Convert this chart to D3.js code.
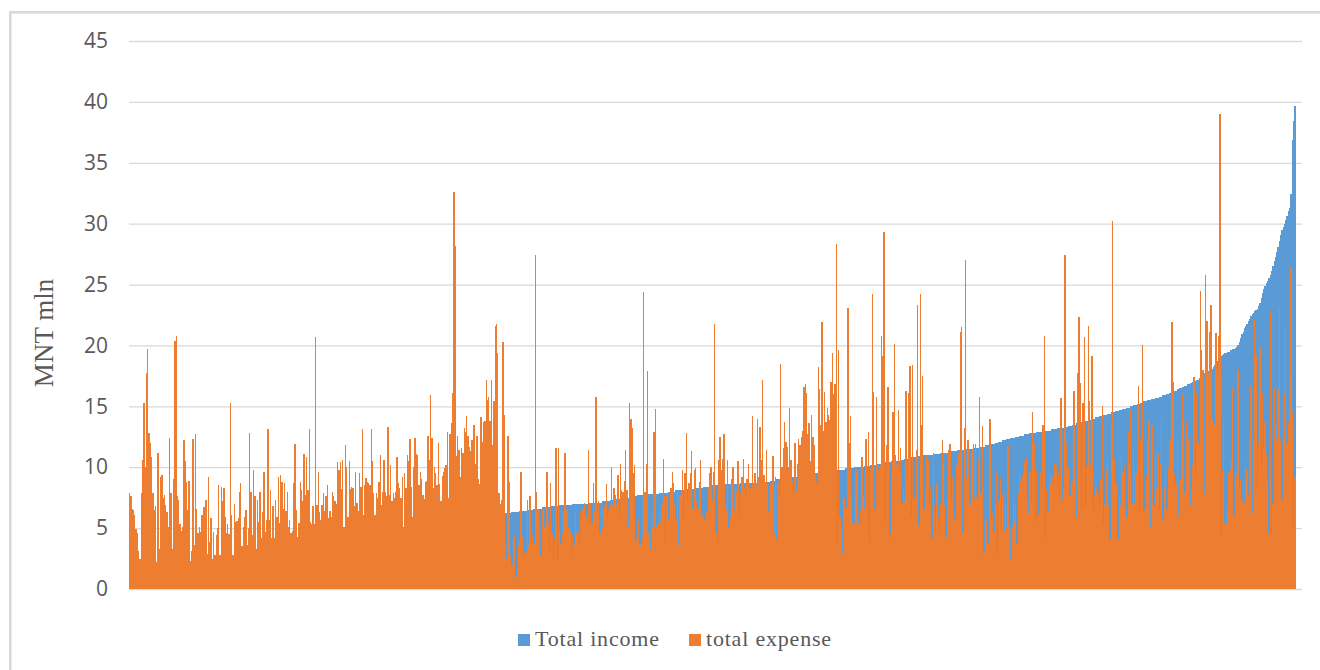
<!DOCTYPE html>
<html>
<head>
<meta charset="utf-8">
<script src="https://cdn.jsdelivr.net/npm/d3@7"></script>
<style>
  html, body { margin: 0; padding: 0; background: #fff; overflow: hidden; }
  svg { display: block; }
</style>
</head>
<body>
<svg id="chart" width="1320" height="670"></svg>
<script>
// ----- data, MNT mln -----
const seriesNames = ["Total income", "total expense"];
const yTicks = [0, 5, 10, 15, 20, 25, 30, 35, 40, 45];

// households sorted by income; the first part sits behind the expense bars
const totalIncome = [
  .5,.6,.7,.8,.9,1,1,1.1,1.1,1.2, 1.2,1.3,1.3,1.4,1.4,1.5,1.5,1.6,1.6,1.7,
  1.7,1.8,1.8,1.8,1.9,1.9,1.9,2,2,2, 2,2,2,2,2.1,2.1,2.1,2.1,2.1,2.1,
  2.1,2.1,2.1,2.2,2.2,2.2,2.2,2.2,2.2,2.2, 2.2,2.2,2.2,2.2,2.2,2.2,2.2,2.2,2.2,2.2,
  2.3,2.3,2.3,2.3,2.3,2.3,2.3,2.3,2.3,2.3, 2.3,2.3,2.3,2.3,2.3,2.3,2.3,2.3,2.3,2.3,
  2.4,2.4,2.4,2.4,2.4,2.4,2.4,2.4,2.4,2.4, 2.5,2.5,2.5,2.5,2.5,2.5,2.5,2.5,2.5,2.5,
  2.6,2.6,2.6,2.6,2.6,2.6,2.6,2.6,2.6,2.6, 2.7,2.7,2.7,2.7,2.7,2.7,2.7,2.7,2.7,2.7,
  2.8,2.8,2.8,2.8,2.8,2.8,2.8,2.8,2.8,2.8, 2.9,2.9,2.9,2.9,2.9,2.9,2.9,2.9,2.9,2.9,
  3,3,3,3,3,3,3,3,3,3, 3.1,3.1,3.1,3.1,3.1,3.1,3.1,3.1,3.1,3.1,
  3.2,3.2,3.2,3.2,3.2,3.2,3.2,3.2,3.2,3.2, 3.3,3.3,3.3,3.3,3.3,3.3,3.3,3.3,3.3,3.3,
  3.4,3.4,3.4,3.4,3.4,3.4,3.4,3.4,3.4,3.4, 3.5,3.5,3.5,3.5,3.5,3.5,3.5,3.5,3.5,3.5,
  3.6,3.6,3.6,3.6,3.6,3.6,3.6,3.6,3.6,3.6, 3.8,3.8,3.8,3.8,3.8,3.8,3.8,3.8,3.8,3.8,
  4,4,4,4,4,4,4,4,4,4, 4.2,4.2,4.2,4.2,4.2,4.2,4.2,4.2,4.2,4.2,
  4.4,4.4,4.4,4.4,4.4,4.4,4.4,4.4,4.4,4.4, 4.6,4.6,4.6,4.6,4.6,4.6,4.6,4.6,4.6,4.6,
  4.8,4.8,4.8,4.8,4.8,4.8,4.8,4.8,4.8,4.8, 5,5,5,5,5,5,5,5,5,5,
  5.5,5.5,5.5,5.5,5.5,5.5,5.5,5.5,5.5,5.5, 6,
  // visible from here on
  6.2,6.2,6.2,6.2,6.2,6.3,6.3,6.3,6.3,6.3, 6.3,6.4,6.4,6.4,6.4,6.4,6.4,6.5,6.5,6.5,
  6.5,6.5,6.6,6.6,6.6,6.6,6.6,6.6,6.6,6.7, 6.7,6.7,6.7,6.7,6.7,6.8,6.8,6.8,6.8,6.8,
  6.8,6.8,6.9,6.9,6.9,6.9,6.9,6.9,6.9, 6.9,6.9,6.9,7,7,7,7,7,7,7,
  7,7,7,7,7,7,7.1,7.1,7.1,7.1, 7.1,7.1,7.1,7.1,7.1,7.1,7.2,7.2,7.2,7.2,
  7.2,7.2,7.3,7.3,7.3,7.3,7.3,7.4,7.4,7.4, 7.4,7.4,7.5,7.5,7.5,7.5,7.5,7.6,7.6,7.6,
  7.6,7.6,7.6,7.7,7.7,7.7,7.7,7.7,7.7, 7.7,7.7,7.7,7.8,7.8,7.8,7.8,7.8,7.8,7.8,
  7.8,7.9,7.9,7.9,7.9,7.9,7.9,7.9,8,8, 8,8,8,8,8.1,8.1,8.1,8.1,8.1,8.1,
  8.1,8.2,8.2,8.2,8.2,8.2,8.2,8.2,8.3,8.3, 8.3,8.3,8.3,8.3,8.3,8.4,8.4,8.4,8.4,8.4,
  8.4,8.4,8.5,8.5,8.5,8.5,8.5,8.5,8.5, 8.5,8.5,8.6,8.6,8.6,8.6,8.6,8.6,8.6,8.6,
  8.6,8.6,8.6,8.6,8.6,8.7,8.7,8.7,8.7,8.7, 8.7,8.7,8.7,8.7,8.7,8.7,8.7,8.7,8.7,
  8.7,8.7,8.7,8.7,8.8,8.8,8.8,8.8,8.8,8.9, 8.9,8.9,8.9,8.9,9,9,9,9,9,9,
  9,9,9.1,9.1,9.1,9.1,9.2,9.2,9.2,9.2, 9.2,9.3,9.3,9.3,9.3,9.4,9.4,9.4,9.4,
  9.4,9.4,9.5,9.5,9.5,9.5,9.5,9.5,9.6,9.6, 9.6,9.6,9.6,9.6,9.6,9.6,9.7,9.7,9.7,9.7,
  9.7,9.7,9.8,9.8,9.8,9.8,9.8,9.8,9.9,9.9, 9.9,9.9,9.9,9.9,9.9,10,10,10,10,10,
  10,10,10,10.1,10.1,10.1,10.1,10.1,10.2,10.2, 10.2,10.2,10.2,10.3,10.3,10.3,10.3,10.3,10.4,
  10.4,10.4,10.4,10.4,10.4,10.5,10.5,10.5,10.5,10.5, 10.5,10.5,10.6,10.6,10.6,10.7,10.7,10.7,10.7,10.8,
  10.8,10.8,10.8,10.8,10.9,10.9,10.9,10.9,10.9,11, 11,11,11,11,11,11,11,11.1,11.1,11.1,
  11.1,11.1,11.1,11.2,11.2,11.2,11.2,11.2,11.2, 11.2,11.3,11.3,11.3,11.3,11.3,11.3,11.4,11.4,11.4,
  11.4,11.4,11.4,11.5,11.5,11.5,11.5,11.5,11.5,11.6, 11.6,11.6,11.6,11.6,11.7,11.7,11.7,11.7,11.7,11.8,
  11.8,11.8,11.8,11.9,11.9,11.9,12,12,12,12.1, 12.1,12.1,12.2,12.2,12.2,12.3,12.3,12.3,12.4,12.4,
  12.4,12.4,12.5,12.5,12.5,12.6,12.6,12.6,12.6,12.7, 12.7,12.7,12.7,12.8,12.8,12.8,12.8,12.8,12.9,
  12.9,12.9,12.9,12.9,13,13,13,13,13,13, 13,13.1,13.1,13.1,13.1,13.2,13.2,13.2,13.2,13.2,
  13.2,13.3,13.3,13.3,13.4,13.4,13.4,13.5,13.5,13.5, 13.6,13.6,13.6,13.7,13.7,13.7,13.8,13.8,13.8,13.9,
  13.9,13.9,14,14,14,14.1,14.1,14.1,14.2, 14.2,14.2,14.3,14.3,14.3,14.4,14.4,14.4,14.5,14.5,
  14.5,14.6,14.6,14.6,14.7,14.7,14.7,14.8,14.8,14.8, 14.9,14.9,14.9,15,15,15.1,15.1,15.1,15.2,15.2,
  15.2,15.3,15.3,15.4,15.4,15.4,15.5,15.5,15.5,15.6, 15.6,15.6,15.7,15.7,15.7,15.8,15.8,15.8,15.9,15.9,
  15.9,16,16,16.1,16.1,16.2,16.2,16.3,16.3, 16.4,16.4,16.5,16.5,16.6,16.6,16.7,16.7,16.8,16.8,
  16.9,16.9,17,17,17.1,17.2,17.2,17.3,17.4,17.5, 17.6,17.7,17.7,17.8,17.9,18,18,18.1,18.2,18.4,
  18.6,18.7,18.8,19,19.1,19.2,19.3,19.4,19.4,19.5, 19.5,19.6,19.6,19.7,19.7,19.8,19.9,20,20.3,
  20.6,20.9,21.1,21.4,21.6,21.8,22,22.2,22.4,22.6, 22.7,22.8,22.9,23,23.2,23.5,23.9,24.3,24.6,24.9,
  25.1,25.3,25.5,25.8,26.1,26.5,26.9,27.3,27.7,28.1, 28.6,29.1,29.5,29.7,30,30.3,30.6,31,31.3,32.4,
  36.9,38.4,39.7
];

const totalExpense = [
  7.9,7.6,6.6,6.5,6.1,4.9,4.6,3.1,2.5,7.9,10.6,15.3,10,17.7,19.7,12.8,12,10.8,7.9,6.5,6.8,2.2,11.2,3.3,9.2,9.4,7.5,7.7,6.9,6.3,5.1,12.4,7.9,3.3,9,20.4,20.8,7.6,7.3,5.3,4.8,5.1,12.2,10.5,8.8,6.5,8.9,2.3,3.1,12.3,
  3.6,12.7,6.6,4.6,5.1,4.7,6.1,6.7,6.7,7.3,2.9,9.2,3.9,5.8,2.5,4.7,2.8,4.4,5,8.5,2.8,8.4,7.2,8.3,5.9,4.6,5.3,4.5,15.3,6.1,2.8,7,5.5,5.6,5.8,8,8.7,3.5,5.1,5.9,6.5,3.6,5,12.8,8,4.4,9.8,7.6,3.3,7.3,
  5.5,8,4.2,6.3,9.6,4.7,5.7,13.1,5.7,8.1,4.2,6.8,4.2,7.3,5.9,9.2,5.4,9.4,8.8,6.6,8.7,6.4,8,5.1,5.7,4.6,4.8,8.7,11.9,6.5,4.3,5.4,8.8,8.1,7.2,11.1,7.7,10.8,8.1,13.1,5.5,5.3,6.8,5.3,20.7,6.9,9.6,6.3,5.7,
  6.9,7.9,6.4,7.6,8.5,5.8,6.4,5.9,8,7.6,7.2,7,10.4,9.8,10.4,8.2,10.6,5.1,11.8,10,5.9,10.5,8.2,8.4,8.3,6.8,9.6,7.1,6.4,9.5,8.4,13.1,6.1,8.5,9.1,8.8,8.7,8.5,13.1,10.5,7.9,6.1,7.9,7.5,8.8,11,6.9,8,10.6,8,
  7.6,13.3,7.7,10.2,7.2,7.9,7.5,8,10.8,8.7,8.3,7.5,9.2,5.1,9.5,8.3,11,10.5,12.3,8.4,5.9,10,12.4,11.1,11,8.5,9.6,9,7.7,7.4,8.8,8.9,12.6,10.6,15.9,12.4,8.3,10,9.5,8.5,12,8.6,7.2,9.3,9.6,9.9,10.2,12.9,
  7.5,12.7,13.6,16.1,32.6,28.2,10.9,12.6,11.4,9.2,11.6,11.2,13.2,12.9,14.2,12.6,11.7,11.3,12.2,13.5,13.5,10.3,12.6,9,8.6,14.1,12.1,13.7,13.8,17.2,15.5,15.8,13.8,17.2,11.8,15.4,21.6,21.8,19.4,7.9,7,7.3,20.3,14.3,
  3.8,2.5,12.6,8.8,2.8,2,4.3,4.4,1,1.4,3.5,4,9.6,4.2,3.3,2.9,3,7.3,3.6,7.6,3.7,4.4,3.7,27.4,8,6.6,5.1,2.8,2.7,6.6,5,5.3,9.6,5.4,3.2,8.7,4.6,2.4,4,11.6,2.5,11.6,4.8,3.7,4.6,6.4,11.2,6.6,6.5,5.1,
  4.8,2.8,4.4,3.6,6.3,4.6,4.8,3.6,6.3,5.7,6.6,7.1,6.1,5.8,11.4,5.3,7.1,5.3,8.7,6.4,15.8,6.4,7.2,4.6,7,5.1,6.6,6.8,8.6,5.9,6.6,7,10,6.8,8.3,7.7,6.8,9.4,6.1,10.3,8.1,8,8.9,11.4,8.1,5.1,15.3,14,13.2,9.5,
  10.2,4,4.2,5.7,3.6,3.7,4.2,24.4,8,10.3,17.9,4.6,3.3,5.9,5,12.9,14.8,5,5.3,6.5,5.5,7,10.7,7.6,3.6,7.6,5.7,5.8,8.3,9.6,8.7,7,5.7,8,3.6,7.7,8,9.8,5.7,9.5,12.8,7.2,8.7,9.5,11.3,6.6,9.8,9.9,7.2,6.6,
  8.8,10.6,6.1,6,5.7,5.8,6.3,8.4,9.5,10,7.4,9.6,21.8,4.6,3.9,10.6,12.5,9.8,10.7,12.7,6.9,6.5,10.6,5.1,5.8,9,10,6.6,8.2,8,10.5,5.8,7.9,9.2,10.7,8.3,7.6,9,10.3,8,8.3,14.2,8.3,9.5,8.5,14,9.2,13.3,10.6,17.2,
  9.4,8.8,11.4,8.5,6.3,8.7,8.6,10.9,4.6,9.2,4,8.8,7.7,18.5,10,11.6,13.7,12.1,11.7,10,14.9,10.6,8.8,7.9,12,8,10.3,12.3,11.8,12.5,13,16.6,16.8,16.1,12.7,13.6,10.5,14.3,12.5,11.8,9.5,8.8,18.2,16.4,13.5,21.9,13,16.2,13.7,14.9,
  14.3,13.9,17,19.4,16,16.8,28.3,3.8,19.6,5.9,5,2.9,7.5,6.5,6.7,23.1,12,14.2,7.6,5.4,5.3,9.8,9.8,5.4,5.5,6.6,10.8,7.6,6.6,12.3,5.9,12.9,3.9,9.9,24.2,16.2,6.5,15.8,10.2,9.8,10.2,20.8,19.1,29.3,5.3,11.8,16.6,4.1,4.6,9,
  14.5,20.1,11,10.2,14.7,9.6,
  11.6,7,8.3,7.2,16.3,8.8,16.1,18.3,6.1,18.4,7.3,7.5,11.4,23.3,5.2,24.2,13.5,17.5,6.6,7.9,10.9,10.7,7,8.3,4.2,11.2,6.8,4.7,8.7,5.9,4.6,7,12.2,10.3,6.9,4.3,7.2,11.4,11.9,7.2,9.2,6.4,5.7,10.1,10.6,11.2,21.1,21.5,4.6,13.2,
  27,9.2,12.2,7.3,6.9,11.4,11.9,7.5,11.9,7.5,10.7,15.8,7.9,13.4,2.9,3,5.7,3.7,3.7,14,5.7,6.2,4.8,6.9,9.6,2.8,7.2,9.1,4.7,7.8,4.7,7.3,5,11.75,5.1,2.5,5.1,7.2,5.5,7,3.7,7.8,9.7,8.9,9.4,9.5,10.4,10.8,7.5,6.2,
  9.6,7.2,14.5,11.9,5.5,9.8,5.9,6.2,9.5,8.3,13.5,20.8,4.1,8.1,6.4,9.4,8.7,9.2,8.7,10.3,10.1,8.7,9.5,7.6,15.7,7.3,8.3,27.4,12,9.9,9.9,7.6,8.7,8.8,16.3,9,5.8,17.7,22.3,16.9,6.6,15.3,20.7,6.9,10.1,21.6,15.4,10.1,
  19.1,6.5,7.6,8.4,7.9,7.9,6.6,9,15,5.4,6.9,9.8,10.5,6.9,4,13.7,30.2,10.6,8.7,8.7,4.1,7.5,6.8,11,9.5,10.1,6.5,5.8,12.9,10.1,14.7,7,11.6,7,9.5,10.4,16.7,6.4,12.3,20,6.4,6.5,9.3,12.2,13.8,5.1,13.4,13.4,6.8,11.2,8.2,
  11.2,6.5,10.3,13.9,5.7,8.4,10.1,6.5,10,12.3,12.3,21.9,17,9.5,8.7,12.2,6.1,9,12.3,16.1,14,7.9,13.7,13,12.2,6.8,8.4,10.1,17.4,9,16.1,12,11.7,24.5,19.6,18,7.9,25.8,22,17.7,21.1,23.3,14,13.7,13.5,21,17.7,20.8,
  39,4.4,9.8,13.7,5.4,5.4,6.8,9.5,9.8,10.6,16.5,6,9.8,9.4,18,8.3,9,7.3,9,7,10.5,9.8,7.8,12.5,16.7,6.2,12.2,22.1,19.2,8.3,11.9,19.8,10.1,16,11.4,13.7,11.1,8.9,4.6,22.8,4.6,7,16.5,13.7,12.2,16.4,23,12.2,7.3,12.2,
  16,21.5,11.9,13.7,17.3,26.4,14.5,5,9.2
];

const colors = ["#5b9bd5", "#ed7d31"];

// ----- layout -----
const svg = d3.select("#chart");
const plotLeft = 129, plotRight = 1295.5, plotTop = 41, plotBottom = 589;

const x = d3.scaleBand().domain(d3.range(totalExpense.length)).range([plotLeft, plotRight]).padding(0);
const y = d3.scaleLinear().domain([0, 45]).range([plotBottom, plotTop]);

// frame: only the top and left edges are inside the picture
svg.append("rect")
  .attr("x", 10.3).attr("y", 12.3)
  .attr("width", 1400).attr("height", 800)
  .attr("fill", "none").attr("stroke", "#d9d9d9").attr("stroke-width", 2.6);

// y axis with gridlines
const yAxis = svg.append("g")
  .attr("transform", `translate(${plotLeft},0)`)
  .call(d3.axisLeft(y).tickValues(yTicks).tickSize(-(1302 - plotLeft)).tickPadding(21));
yAxis.select(".domain").remove();
yAxis.selectAll("line").attr("stroke", "#d9d9d9").attr("stroke-width", 1.3);
yAxis.selectAll("text")
  .attr("fill", "#595959")
  .style("font-family", "'Open Sans', sans-serif")
  .style("font-size", "21px");

// bars, expense on top of income. crisp edges so the blue does not leak through seams
[totalIncome, totalExpense].forEach((vals, s) => {
  svg.append("g")
    .attr("shape-rendering", "crispEdges")
    .selectAll("rect")
    .data(vals)
    .enter().append("rect")
    .attr("x", (d, i) => x(i))
    .attr("y", d => y(d))
    .attr("width", x.bandwidth())
    .attr("height", d => plotBottom - y(d))
    .attr("fill", colors[s]);
});

// axis title
svg.append("text")
  .attr("transform", "translate(53,333) rotate(-90)")
  .attr("text-anchor", "middle")
  .attr("fill", "#595959")
  .style("font-family", "'Liberation Serif', serif")
  .style("font-size", "27px")
  .text("MNT mln");

// legend
const legendX = [518, 689];
const legend = svg.append("g");
seriesNames.forEach((name, i) => {
  legend.append("rect")
    .attr("x", legendX[i]).attr("y", 634)
    .attr("width", 12).attr("height", 12)
    .attr("fill", colors[i]);
  legend.append("text")
    .attr("x", legendX[i] + 17).attr("y", 646)
    .attr("fill", "#595959")
    .attr("letter-spacing", 0.8)
    .style("font-family", "'Liberation Serif', serif")
    .style("font-size", "22px")
    .text(name);
});
</script>
</body>
</html>
